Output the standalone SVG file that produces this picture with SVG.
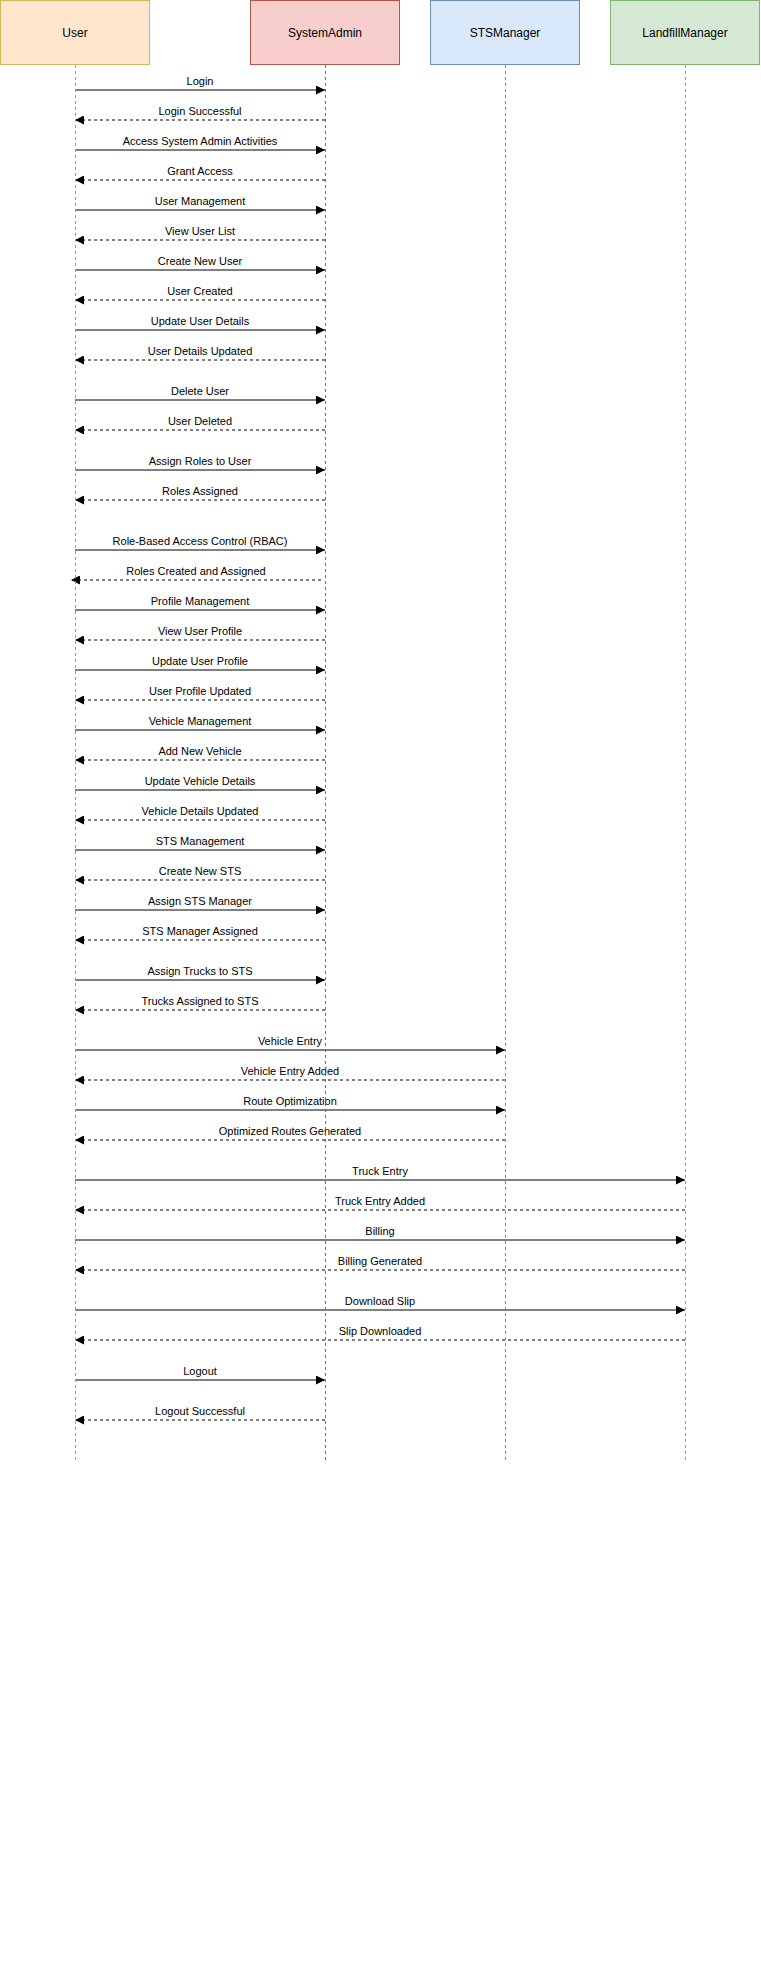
<svg xmlns="http://www.w3.org/2000/svg" width="761" height="1966" viewBox="0 0 761 1966">
<style>
.box{stroke-width:1}
.title{font-family:"Liberation Sans",Arial,Helvetica,sans-serif;font-size:12px;fill:#000;text-anchor:middle}
.lbl{font-family:"Liberation Sans",Arial,Helvetica,sans-serif;font-size:11px;fill:#000;text-anchor:middle}
.life{stroke-width:1;stroke-dasharray:3 3;fill:none}
.call{stroke:#000;stroke-width:1;fill:none;marker-end:url(#ah)}
.ret{stroke:#000;stroke-width:1;stroke-dasharray:3 3;fill:none;marker-end:url(#ah)}
</style>
<defs>
<marker id="ah" markerUnits="userSpaceOnUse" markerWidth="9" markerHeight="9" viewBox="0 0 8 8" refX="8" refY="4" orient="auto">
<path d="M0,0 L8,4 L0,8 z" fill="#000" stroke="none"/>
</marker>
</defs>
<rect x="0" y="0" width="761" height="1966" fill="#fff"/>
<g id="connectors">
<line class="call" x1="75" y1="90" x2="325" y2="90"/><text class="lbl" x="200" y="85">Login</text>
<line class="ret" x1="325" y1="120" x2="75" y2="120"/><text class="lbl" x="200" y="115">Login Successful</text>
<line class="call" x1="75" y1="150" x2="325" y2="150"/><text class="lbl" x="200" y="145">Access System Admin Activities</text>
<line class="ret" x1="325" y1="180" x2="75" y2="180"/><text class="lbl" x="200" y="175">Grant Access</text>
<line class="call" x1="75" y1="210" x2="325" y2="210"/><text class="lbl" x="200" y="205">User Management</text>
<line class="ret" x1="325" y1="240" x2="75" y2="240"/><text class="lbl" x="200" y="235">View User List</text>
<line class="call" x1="75" y1="270" x2="325" y2="270"/><text class="lbl" x="200" y="265">Create New User</text>
<line class="ret" x1="325" y1="300" x2="75" y2="300"/><text class="lbl" x="200" y="295">User Created</text>
<line class="call" x1="75" y1="330" x2="325" y2="330"/><text class="lbl" x="200" y="325">Update User Details</text>
<line class="ret" x1="325" y1="360" x2="75" y2="360"/><text class="lbl" x="200" y="355">User Details Updated</text>
<line class="call" x1="75" y1="400" x2="325" y2="400"/><text class="lbl" x="200" y="395">Delete User</text>
<line class="ret" x1="325" y1="430" x2="75" y2="430"/><text class="lbl" x="200" y="425">User Deleted</text>
<line class="call" x1="75" y1="470" x2="325" y2="470"/><text class="lbl" x="200" y="465">Assign Roles to User</text>
<line class="ret" x1="325" y1="500" x2="75" y2="500"/><text class="lbl" x="200" y="495">Roles Assigned</text>
<line class="call" x1="75" y1="550" x2="325" y2="550"/><text class="lbl" x="200" y="545">Role-Based Access Control (RBAC)</text>
<line class="ret" x1="321" y1="580" x2="71" y2="580"/><text class="lbl" x="196" y="575">Roles Created and Assigned</text>
<line class="call" x1="75" y1="610" x2="325" y2="610"/><text class="lbl" x="200" y="605">Profile Management</text>
<line class="ret" x1="325" y1="640" x2="75" y2="640"/><text class="lbl" x="200" y="635">View User Profile</text>
<line class="call" x1="75" y1="670" x2="325" y2="670"/><text class="lbl" x="200" y="665">Update User Profile</text>
<line class="ret" x1="325" y1="700" x2="75" y2="700"/><text class="lbl" x="200" y="695">User Profile Updated</text>
<line class="call" x1="75" y1="730" x2="325" y2="730"/><text class="lbl" x="200" y="725">Vehicle Management</text>
<line class="ret" x1="325" y1="760" x2="75" y2="760"/><text class="lbl" x="200" y="755">Add New Vehicle</text>
<line class="call" x1="75" y1="790" x2="325" y2="790"/><text class="lbl" x="200" y="785">Update Vehicle Details</text>
<line class="ret" x1="325" y1="820" x2="75" y2="820"/><text class="lbl" x="200" y="815">Vehicle Details Updated</text>
<line class="call" x1="75" y1="850" x2="325" y2="850"/><text class="lbl" x="200" y="845">STS Management</text>
<line class="ret" x1="325" y1="880" x2="75" y2="880"/><text class="lbl" x="200" y="875">Create New STS</text>
<line class="call" x1="75" y1="910" x2="325" y2="910"/><text class="lbl" x="200" y="905">Assign STS Manager</text>
<line class="ret" x1="325" y1="940" x2="75" y2="940"/><text class="lbl" x="200" y="935">STS Manager Assigned</text>
<line class="call" x1="75" y1="980" x2="325" y2="980"/><text class="lbl" x="200" y="975">Assign Trucks to STS</text>
<line class="ret" x1="325" y1="1010" x2="75" y2="1010"/><text class="lbl" x="200" y="1005">Trucks Assigned to STS</text>
<line class="call" x1="75" y1="1050" x2="505" y2="1050"/><text class="lbl" x="290" y="1045">Vehicle Entry</text>
<line class="ret" x1="505" y1="1080" x2="75" y2="1080"/><text class="lbl" x="290" y="1075">Vehicle Entry Added</text>
<line class="call" x1="75" y1="1110" x2="505" y2="1110"/><text class="lbl" x="290" y="1105">Route Optimization</text>
<line class="ret" x1="505" y1="1140" x2="75" y2="1140"/><text class="lbl" x="290" y="1135">Optimized Routes Generated</text>
<line class="call" x1="75" y1="1180" x2="685" y2="1180"/><text class="lbl" x="380" y="1175">Truck Entry</text>
<line class="ret" x1="685" y1="1210" x2="75" y2="1210"/><text class="lbl" x="380" y="1205">Truck Entry Added</text>
<line class="call" x1="75" y1="1240" x2="685" y2="1240"/><text class="lbl" x="380" y="1235">Billing</text>
<line class="ret" x1="685" y1="1270" x2="75" y2="1270"/><text class="lbl" x="380" y="1265">Billing Generated</text>
<line class="call" x1="75" y1="1310" x2="685" y2="1310"/><text class="lbl" x="380" y="1305">Download Slip</text>
<line class="ret" x1="685" y1="1340" x2="75" y2="1340"/><text class="lbl" x="380" y="1335">Slip Downloaded</text>
<line class="call" x1="75" y1="1380" x2="325" y2="1380"/><text class="lbl" x="200" y="1375">Logout</text>
<line class="ret" x1="325" y1="1420" x2="75" y2="1420"/><text class="lbl" x="200" y="1415">Logout Successful</text>
</g>
<g id="user">
<rect class="box" x="0.5" y="0.5" width="149" height="64" fill="#ffe6cc" stroke="#d6b656"/>
<text class="title" x="75" y="37">User</text>
<line class="life" x1="75.5" y1="65" x2="75.5" y2="1460" stroke="#d79b00"/>
</g>
<g id="systemadmin">
<rect class="box" x="250.5" y="0.5" width="149" height="64" fill="#f8cecc" stroke="#b85450"/>
<text class="title" x="325" y="37">SystemAdmin</text>
<line class="life" x1="325.5" y1="65" x2="325.5" y2="1460" stroke="#b85450"/>
</g>
<g id="stsmanager">
<rect class="box" x="430.5" y="0.5" width="149" height="64" fill="#dae8fc" stroke="#6c8ebf"/>
<text class="title" x="505" y="37">STSManager</text>
<line class="life" x1="505.5" y1="65" x2="505.5" y2="1460" stroke="#6c8ebf"/>
</g>
<g id="landfillmanager">
<rect class="box" x="610.5" y="0.5" width="149" height="64" fill="#d5e8d4" stroke="#82b366"/>
<text class="title" x="685" y="37">LandfillManager</text>
<line class="life" x1="685.5" y1="65" x2="685.5" y2="1460" stroke="#82b366"/>
</g>
</svg>
